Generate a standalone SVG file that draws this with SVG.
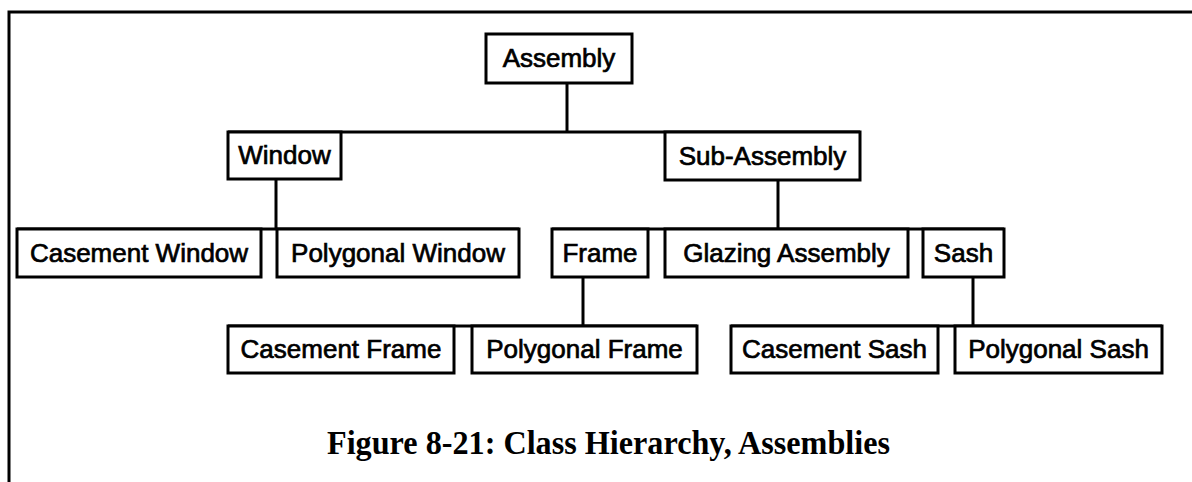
<svg xmlns="http://www.w3.org/2000/svg" width="1192" height="482" viewBox="0 0 1192 482">
<style>
.box{fill:#fff;stroke:#000;stroke-width:3}
.lbl{font-family:"Liberation Sans",Arial,sans-serif;font-size:26px;fill:#000;stroke:#000;stroke-width:0.7;text-anchor:middle}
.ln{stroke:#000;stroke-width:3;fill:none}
.title{font-family:"Liberation Serif","Times New Roman",serif;font-weight:bold;font-size:34px;fill:#000;text-anchor:middle}
</style>
<rect width="1192" height="482" fill="#fff"/>
<g id="frame-border">
<path class="ln" d="M9 482 V12 H1192"/>
</g>
<g id="connectors">
<path class="ln" d="M567 83 V132"/>
<path class="ln" d="M228 132 H860"/>
<path class="ln" d="M276 179 V229"/>
<path class="ln" d="M17 229 H519"/>
<path class="ln" d="M778 180 V229"/>
<path class="ln" d="M552 229 H1004"/>
<path class="ln" d="M583 277 V326"/>
<path class="ln" d="M228 326 H697"/>
<path class="ln" d="M973 277 V326"/>
<path class="ln" d="M731 326 H1162"/>
</g>
<g id="assembly"><rect class="box" x="486" y="34" width="146" height="49"/><text class="lbl" x="559" y="67">Assembly</text></g>
<g id="window"><rect class="box" x="228" y="132" width="113" height="47"/><text class="lbl" x="284.5" y="164">Window</text></g>
<g id="sub-assembly"><rect class="box" x="665" y="132" width="195" height="48"/><text class="lbl" x="762.5" y="165">Sub-Assembly</text></g>
<g id="casement-window"><rect class="box" x="17" y="229" width="244" height="48"/><text class="lbl" x="139" y="262">Casement Window</text></g>
<g id="polygonal-window"><rect class="box" x="277" y="229" width="242" height="48"/><text class="lbl" x="398" y="262">Polygonal Window</text></g>
<g id="frame"><rect class="box" x="552" y="229" width="96" height="48"/><text class="lbl" x="600" y="262">Frame</text></g>
<g id="glazing-assembly"><rect class="box" x="665" y="229" width="243" height="48"/><text class="lbl" x="786.5" y="262">Glazing Assembly</text></g>
<g id="sash"><rect class="box" x="923" y="229" width="81" height="48"/><text class="lbl" x="963.5" y="262">Sash</text></g>
<g id="casement-frame"><rect class="box" x="228" y="326" width="226" height="47"/><text class="lbl" x="341" y="358">Casement Frame</text></g>
<g id="polygonal-frame"><rect class="box" x="472" y="326" width="225" height="47"/><text class="lbl" x="584.5" y="358">Polygonal Frame</text></g>
<g id="casement-sash"><rect class="box" x="731" y="326" width="207" height="47"/><text class="lbl" x="834.5" y="358">Casement Sash</text></g>
<g id="polygonal-sash"><rect class="box" x="955" y="326" width="207" height="47"/><text class="lbl" x="1058.5" y="358">Polygonal Sash</text></g>
<text class="title" x="608.5" y="454" textLength="563" lengthAdjust="spacingAndGlyphs">Figure 8-21: Class Hierarchy, Assemblies</text>
</svg>
